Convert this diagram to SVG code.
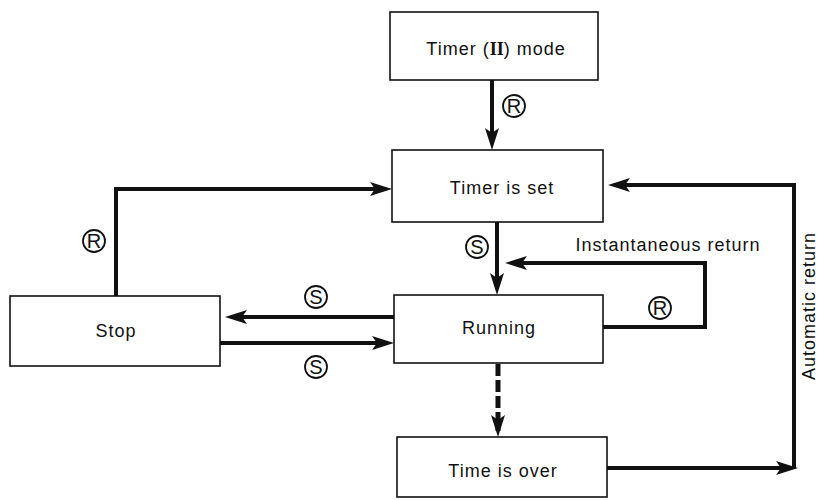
<svg xmlns="http://www.w3.org/2000/svg" width="820" height="500" viewBox="0 0 820 500">
<defs>
<style>
.box{fill:#fff;stroke:#111;stroke-width:1.6}
.lbl{font-family:"Liberation Sans",Arial,sans-serif;font-size:18px;letter-spacing:1px;fill:#111;text-anchor:middle}
.edge{fill:none;stroke:#111;stroke-width:4;stroke-linejoin:miter}
.dash{stroke-dasharray:12,4;stroke-width:5}
.ring{fill:#fff;stroke:#111;stroke-width:1.8}
.ch{font-family:"Liberation Sans",Arial,sans-serif;font-size:20px;fill:#111;text-anchor:middle}
</style>
<marker id="ah" viewBox="0 0 22 14" refX="16" refY="7" markerWidth="22" markerHeight="14" markerUnits="userSpaceOnUse" orient="auto">
<path d="M0,0 L22,7 L0,14 L5,7 Z" fill="#111"/>
</marker>
</defs>
<rect width="820" height="500" fill="#fff"/>
<g id="connectors">
<path class="edge" d="M492,80 V144" marker-end="url(#ah)"/>
<path class="edge" d="M116,296 V189 H386" marker-end="url(#ah)"/>
<path class="edge" d="M497,222 V289" marker-end="url(#ah)"/>
<path class="edge" d="M603,327 H705 V263 H511" marker-end="url(#ah)"/>
<path class="edge" d="M394,317 H231" marker-end="url(#ah)"/>
<path class="edge" d="M220,343 H388" marker-end="url(#ah)"/>
<path class="edge dash" d="M498,364 V431" marker-end="url(#ah)"/>
<path class="edge" d="M607,468 H792" marker-end="url(#ah)"/>
<path class="edge" d="M794,468 V185 H614" marker-end="url(#ah)"/>
<g id="conn-labels">
<circle class="ring" cx="514" cy="106" r="11"/><text class="ch" x="514" y="113">R</text>
<circle class="ring" cx="94" cy="241" r="11"/><text class="ch" x="94" y="248">R</text>
<circle class="ring" cx="316" cy="297" r="11"/><text class="ch" x="316" y="304">S</text>
<circle class="ring" cx="316" cy="367" r="11"/><text class="ch" x="316" y="374">S</text>
<circle class="ring" cx="477" cy="247" r="11"/><text class="ch" x="477" y="254">S</text>
<circle class="ring" cx="660" cy="308" r="11"/><text class="ch" x="660" y="315">R</text>
<text class="lbl" x="668" y="251">Instantaneous return</text>
<text class="lbl" transform="translate(815,306) rotate(-90)" x="0" y="0">Automatic return</text>
</g>
</g>
<g id="node-timer-mode">
<rect class="box" x="390" y="12" width="208" height="68"/>
<text class="lbl" x="496" y="55">Timer (<tspan font-family="'Liberation Serif',serif" font-weight="bold" letter-spacing="0">II</tspan>) mode</text>
</g>
<g id="node-timer-set">
<rect class="box" x="392" y="150" width="211" height="72"/>
<text class="lbl" x="502" y="194">Timer is set</text>
</g>
<g id="node-running">
<rect class="box" x="394" y="295" width="209" height="68"/>
<text class="lbl" x="499" y="334">Running</text>
</g>
<g id="node-stop">
<rect class="box" x="10" y="296" width="210" height="70"/>
<text class="lbl" x="116" y="337">Stop</text>
</g>
<g id="node-time-over">
<rect class="box" x="397" y="437" width="210" height="60"/>
<text class="lbl" x="503" y="477">Time is over</text>
</g>
</svg>
